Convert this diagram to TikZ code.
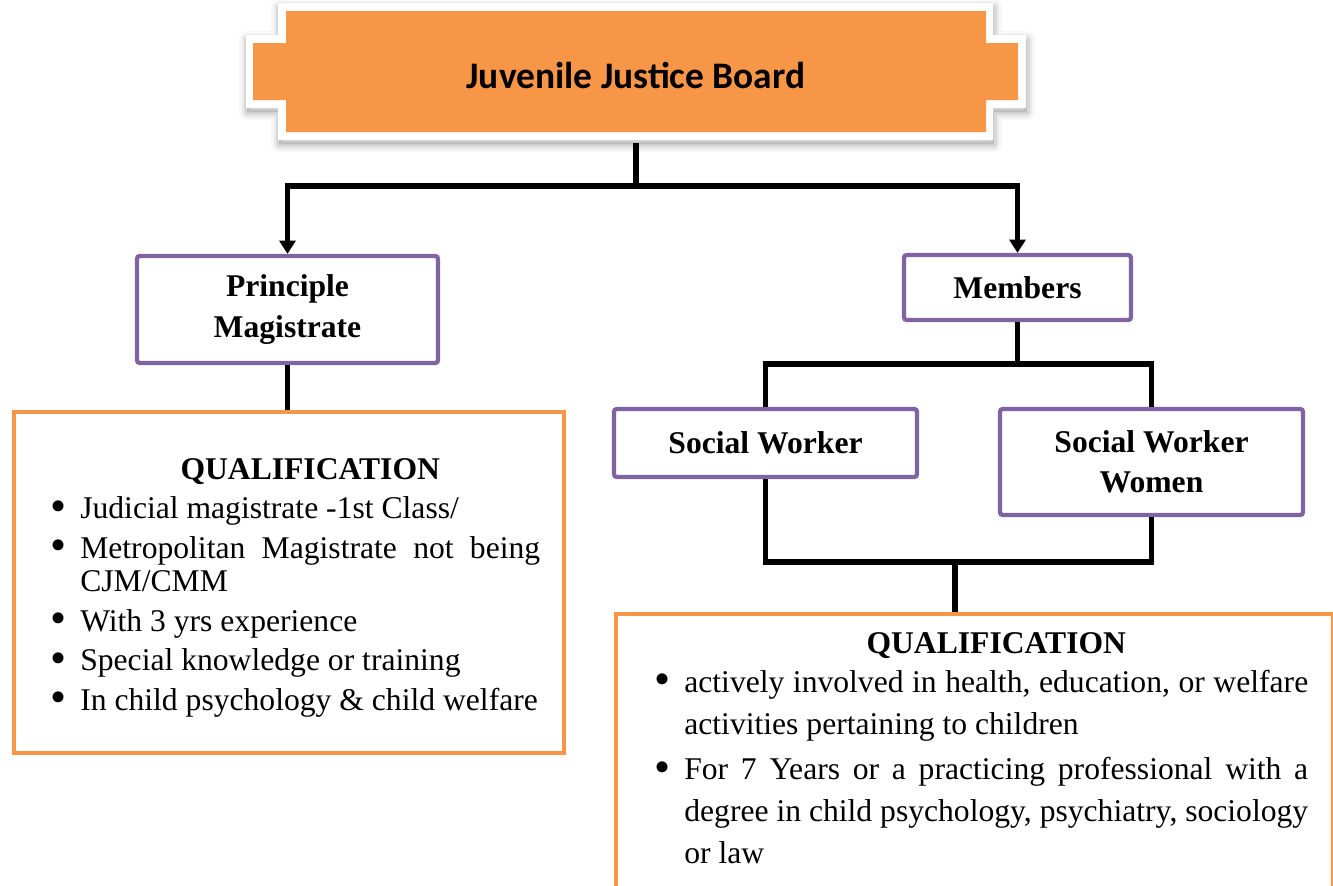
\documentclass[tikz,border=0pt]{standalone}
\usepackage{fontspec}
\setmainfont{Liberation Serif}
\newfontfamily\headfont{Carlito}
\usetikzlibrary{arrows.meta}

\definecolor{boardorange}{HTML}{F79646}
\definecolor{postpurple}{HTML}{8064A2}

\hyphenpenalty=10000
\exhyphenpenalty=10000

% outline of the board plaque
\def\plaqueouter{(278,3) -- (993,3) -- (993,35) -- (1026,35) -- (1026,108) -- (993,108) -- (993,140) -- (278,140) -- (278,108) -- (246,108) -- (246,35) -- (278,35) -- cycle}
\def\plaqueinner{(286,11) -- (986,11) -- (986,43) -- (1018,43) -- (1018,100) -- (986,100) -- (986,132) -- (286,132) -- (286,100) -- (253,100) -- (253,43) -- (286,43) -- cycle}

% bullet list inside the qualification boxes
\newlength{\qindent}
\setlength{\qindent}{0.6cm}
\newcommand{\qhead}{\par\noindent\hspace*{\qindent}\makebox[\dimexpr\hsize-\qindent\relax][c]{\bfseries QUALIFICATION}\par}
\newcommand{\qitem}[1]{\par\noindent\hangindent=\qindent\hangafter=1\makebox[\qindent][l]{\raisebox{-0.08em}{\scalebox{1.45}{\textbullet}}}#1\par}

\tikzset{
	link/.style={line width=3.2pt},
	arrow/.style={link, -{Triangle[width=9pt,length=7.5pt]}},
	post/.style={draw=postpurple, line width=2.4pt, rounded corners=1.5pt, fill=white, align=center, font=\bfseries\fontsize{18pt}{23pt}\selectfont},
	qualbox/.style={draw=boardorange, line width=2.4pt, fill=white},
	qualtext/.style={inner sep=0pt, align=justify}
}

\begin{document}
\begin{tikzpicture}[x=0.02cm, y=-0.02cm]
	\useasboundingbox (0,0) rectangle (1333,886);
	% Board plaque with a soft shadow
	\foreach \w/\o in {9/0.03,6/0.05,3/0.08}
		\draw[black, opacity=\o, line width=\w pt, line join=round, xshift=0.5pt, yshift=-2.5pt] \plaqueouter;
	\fill[black, opacity=0.12, xshift=0.5pt, yshift=-2.5pt] \plaqueouter;
	\fill[white] \plaqueouter;
	\fill[boardorange] \plaqueinner;
	\node[font=\headfont\bfseries\fontsize{21.3pt}{25pt}\selectfont, minimum width=14cm, minimum height=2.4cm] (jjb) at (636,75) {Juvenile Justice Board};
	% Posts
	\node[post, minimum width=6.02cm, minimum height=2.14cm] (pm) at (287.5,309.5) {Principle\\Magistrate};
	\node[post, minimum width=4.54cm, minimum height=1.3cm] (mem) at (1017.5,287.5) {Members};
	\node[post, minimum width=6.06cm, minimum height=1.36cm] (sw) at (765.5,443) {Social Worker};
	\node[post, minimum width=6.06cm, minimum height=2.12cm] (sww) at (1151.5,462) {Social Worker\\Women};
	% Qualification of the magistrate
	\node[qualbox, minimum width=11cm, minimum height=6.82cm] (qualL) at (289,582.5) {};
	\node[qualtext, anchor=west, text width=9.8cm, font=\fontsize{18pt}{19pt}\selectfont] (qualLtxt) at ([xshift=0.76cm, yshift=0.08cm]qualL.west) {%
		\setlength{\parskip}{3.5pt}%
		\qhead
		\qitem{Judicial magistrate -1st Class/}
		\qitem{Metropolitan Magistrate not being CJM/CMM}
		\qitem{With 3 yrs experience}
		\qitem{Special knowledge or training}
		\qitem{In child psychology \& child welfare}};
	% Qualification of the members
	\node[qualbox, anchor=north west, minimum width=14.34cm, minimum height=6cm] (qualR) at (614,612) {};
	\node[qualtext, anchor=north west, text width=13.08cm, font=\fontsize{18pt}{23.8pt}\selectfont] (qualRtxt) at ([xshift=0.8cm, yshift=0.08cm]qualR.north west) {%
		\setlength{\parskip}{2pt}%
		\qhead
		\vspace{-3.8pt}
		\qitem{actively involved in health, education, or welfare activities pertaining to children}
		\qitem{For 7 Years or a practicing professional with a degree in child psychology, psychiatry, sociology or law}};
	% Board to posts
	\coordinate (fork) at (636,186);
	\draw[link] ([yshift=-0.16cm]jjb.south) -- (fork);
	\draw[arrow] (fork) -| (pm.north);
	\draw[arrow] (fork) -| (mem.north);
	\draw[link] (pm.south) -- (pm.south |- qualL.north);
	% Members to social workers
	\draw[link] (mem.south) -- ++(0,42) coordinate (memfork);
	\draw[link] (sw.north) |- (memfork) -| (sww.north);
	\coordinate (swjoin) at (955,562);
	\draw[link] (sw.south) |- (swjoin) -| (sww.south);
	\draw[link] (swjoin) -- (swjoin |- qualR.north);
\end{tikzpicture}
\end{document}
